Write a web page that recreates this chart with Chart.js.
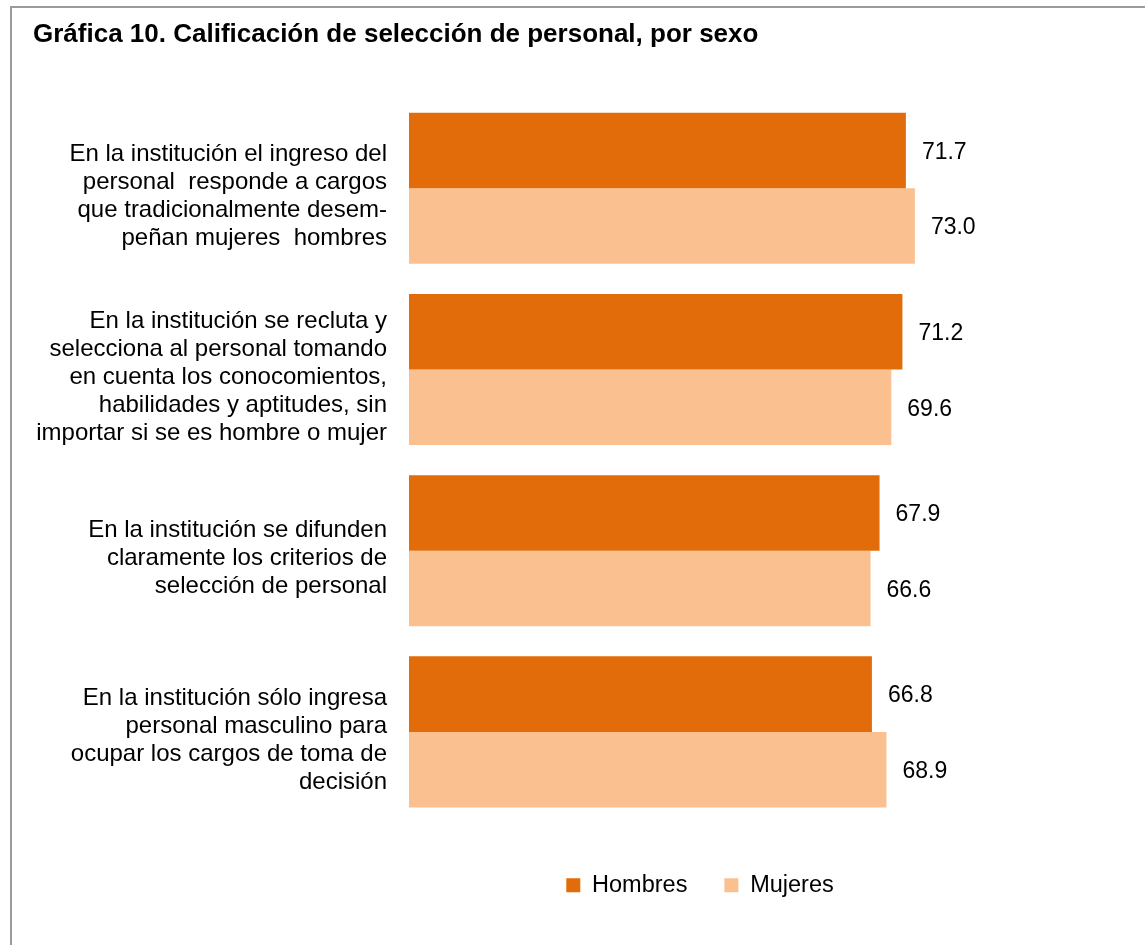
<!DOCTYPE html>
<html lang="es">
<head>
<meta charset="utf-8">
<title>Gráfica 10. Calificación de selección de personal, por sexo</title>
<script src="https://cdn.jsdelivr.net/npm/chart.js@4/dist/chart.umd.min.js"></script>
<style>
  html, body { margin: 0; padding: 0; background: #ffffff; }
  #wrap { position: relative; width: 1145px; height: 945px; overflow: hidden; }
  #frame {
    position: absolute; left: 10px; top: 6px; right: -4px; bottom: -4px;
    border-top: 2px solid #9a9a9a; border-left: 2px solid #9a9a9a;
  }
  #chart { position: absolute; left: 0; top: 0; }
</style>
</head>
<body>
<div id="wrap">
  <div id="frame"></div>
  <canvas id="chart" width="1145" height="945"></canvas>
</div>
<script>
// Chart text and values
const chartTitle = 'Gráfica 10. Calificación de selección de personal, por sexo';

const categories = [
  ['En la institución el ingreso del', 'personal  responde a cargos', 'que tradicionalmente desem-', 'peñan mujeres  hombres'],
  ['En la institución se recluta y', 'selecciona al personal tomando', 'en cuenta los conocomientos,', 'habilidades y aptitudes, sin', 'importar si se es hombre o mujer'],
  ['En la institución se difunden', 'claramente los criterios de', 'selección de personal'],
  ['En la institución sólo ingresa', 'personal masculino para', 'ocupar los cargos de toma de', 'decisión']
];

const seriesNames = ['Hombres', 'Mujeres'];
const hombres = [71.7, 71.2, 67.9, 66.8];
const mujeres = [73.0, 69.6, 66.6, 68.9];

const FONT = "'Liberation Sans', Arial, Helvetica, sans-serif";
const COLOR_H = '#E36C0A';
const COLOR_M = '#FAC090';

// Writes each bar's value just past its end
const valueLabels = {
  id: 'valueLabels',
  afterDatasetsDraw(chart) {
    const ctx = chart.ctx;
    ctx.save();
    ctx.font = '23px ' + FONT;
    ctx.fillStyle = '#000000';
    ctx.textAlign = 'left';
    ctx.textBaseline = 'middle';
    chart.data.datasets.forEach((ds, di) => {
      const meta = chart.getDatasetMeta(di);
      meta.data.forEach((bar, i) => {
        ctx.fillText(ds.data[i].toFixed(1), bar.x + 16, bar.y + 2);
      });
    });
    ctx.restore();
  }
};

// Puts the legend under the plot, centred beneath the bars
const legendPlacement = {
  id: 'legendPlacement',
  afterLayout(chart) {
    const lg = chart.legend;
    if (!lg) return;
    const shiftX = 700 - (lg.left + lg.right) / 2;
    lg.left += shiftX;
    lg.right += shiftX;
    lg.top += 14;
    lg.bottom += 14;
  }
};

new Chart(document.getElementById('chart'), {
  type: 'bar',
  data: {
    labels: categories,
    datasets: [
      { label: seriesNames[0], data: hombres, backgroundColor: COLOR_H, borderWidth: 0 },
      { label: seriesNames[1], data: mujeres, backgroundColor: COLOR_M, borderWidth: 0 }
    ]
  },
  options: {
    indexAxis: 'y',
    responsive: false,
    animation: false,
    devicePixelRatio: 1,
    categoryPercentage: 0.834,
    barPercentage: 1.0,
    layout: { padding: { left: 33, right: 43, top: 0, bottom: 52 } },
    scales: {
      x: { display: false, min: 0, max: 100 },
      y: {
        grid: { display: false, drawTicks: false },
        border: { display: false },
        afterFit(scale) { scale.width = 376; },
        ticks: {
          color: '#000000',
          padding: 22,
          labelOffset: 8,
          font: { family: FONT, size: 24, lineHeight: 1.1667 }
        }
      }
    },
    plugins: {
      title: {
        display: true,
        text: chartTitle,
        align: 'start',
        color: '#000000',
        font: { family: FONT, size: 26, weight: 'bold', lineHeight: 1.2 },
        padding: { top: 19, bottom: 47.5 }
      },
      legend: {
        display: true,
        position: 'bottom',
        align: 'center',
        labels: {
          color: '#000000',
          boxWidth: 14,
          boxHeight: 14,
          padding: 37,
          font: { family: FONT, size: 23.5 }
        }
      },
      tooltip: { enabled: false }
    }
  },
  plugins: [valueLabels, legendPlacement]
});
</script>
</body>
</html>
